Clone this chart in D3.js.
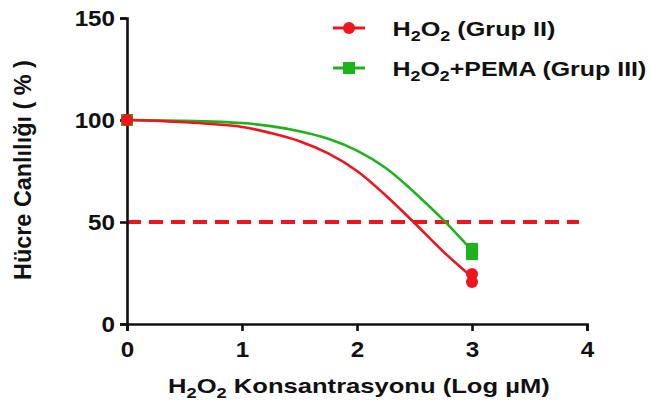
<!DOCTYPE html>
<html>
<head>
<meta charset="utf-8">
<script src="https://cdn.jsdelivr.net/npm/d3@7"></script>
<style>
  body { margin: 0; background: #fff; }
  svg text { font-family: "Liberation Sans", Arial, sans-serif; font-weight: bold; fill: #111; }
</style>
</head>
<body>
<svg width="650" height="405"></svg>
<script>
// Fitted curves (x = log uM, y = % viability)
var curveX = [0, 0.5, 1, 1.25, 1.5, 1.75, 2, 2.25, 2.5, 2.75, 3];
var redCurve = [100, 98.9, 96.6, 93.6, 89.6, 83.6, 75, 63, 49.5, 35.5, 23];
var greenCurve = [100, 99.6, 98.5, 97, 94.5, 90.8, 85, 76.5, 64.5, 51, 36];

// Measured points
var redPtsX = [0, 0, 3, 3];
var redPtsY = [100, 100, 24.5, 20.6];
var greenPtsX = [0, 0, 3, 3];
var greenPtsY = [100, 100, 36.8, 34.3];

var xTicks = [0, 1, 2, 3, 4];
var yTicks = [0, 50, 100, 150];
var halfLine = 50;

var red = "#f0141c", green = "#1db31d";

var svg = d3.select("svg");
var x = d3.scaleLinear().domain([0, 4]).range([127, 587]);
var y = d3.scaleLinear().domain([0, 150]).range([324, 18]);

// 50% reference line
svg.append("line")
  .attr("x1", x(0)).attr("x2", x(3.93))
  .attr("y1", y(halfLine)).attr("y2", y(halfLine))
  .attr("stroke", red)
  .attr("stroke-width", 4)
  .attr("stroke-dasharray", "14,8");

var line = d3.line()
  .x((d, i) => x(curveX[i]))
  .y(d => y(d))
  .curve(d3.curveCatmullRom.alpha(0.5));

svg.append("path").attr("d", line(greenCurve))
  .attr("fill", "none").attr("stroke", green).attr("stroke-width", 2.6);
svg.append("path").attr("d", line(redCurve))
  .attr("fill", "none").attr("stroke", red).attr("stroke-width", 2.6);

// axes
var xAxis = svg.append("g")
  .attr("transform", "translate(0," + y(0) + ")")
  .call(d3.axisBottom(x).tickValues(xTicks).tickSize(7).tickPadding(10).tickFormat(d3.format("d")));
var yAxis = svg.append("g")
  .attr("transform", "translate(" + x(0) + ",0)")
  .call(d3.axisLeft(y).tickValues(yTicks).tickSize(7).tickPadding(5));

[xAxis, yAxis].forEach(function (a) {
  a.select(".domain").attr("stroke", "#111").attr("stroke-width", 2.6);
  a.selectAll(".tick line").attr("stroke", "#111").attr("stroke-width", 2.6);
  a.selectAll(".tick text").style("font-size", "22px").attr("fill", "#111");
});
// tick labels look a little wider in the original
xAxis.selectAll(".tick text").attr("transform", "scale(1.1,1)");
yAxis.selectAll(".tick text").attr("transform", "translate(-12,0) scale(1.1,1) translate(12,0)");

// markers
svg.selectAll(".sq")
  .data(greenPtsY)
  .enter()
  .append("rect")
  .attr("x", (d, i) => x(greenPtsX[i]) - 6)
  .attr("y", d => y(d) - 6)
  .attr("width", 12).attr("height", 12)
  .attr("fill", green);

svg.selectAll(".dot")
  .data(redPtsY)
  .enter()
  .append("circle")
  .attr("cx", (d, i) => x(redPtsX[i]))
  .attr("cy", d => y(d))
  .attr("r", 6)
  .attr("fill", red);

// text helpers: subscripts and horizontal stretch to the measured width
function chem(t, parts) {
  parts.forEach(function (p, i) {
    var s = t.append("tspan").text(p);
    if (i % 2 === 1 && i < parts.length - 1) s.attr("dy", 5).style("font-size", "15px");
    else if (i > 0) s.attr("dy", -5);
  });
}
function fit(t, px, py, rot, target, anchor) {
  var w = t.node().getComputedTextLength();
  var s = target / w;
  var ox = anchor === "middle" ? -target / 2 : 0;
  t.attr("transform", "translate(" + px + "," + py + ") rotate(" + rot + ") translate(" + ox + ",0) scale(" + s + ",1)");
}

// axis titles
var yt = svg.append("text").style("font-size", "23px").text("Hücre Canlılığı ( % )");
fit(yt, 31, 170, -90, 220, "middle");

var xt = svg.append("text").style("font-size", "21px");
chem(xt, ["H", "2", "O", "2", " Konsantrasyonu (Log µM)"]);
fit(xt, 359, 393, 0, 382, "middle");

// legend
var legendNames = [["H", "2", "O", "2", " (Grup II)"], ["H", "2", "O", "2", "+PEMA (Grup III)"]];
var legendWidths = [163, 254];
var legendColors = [red, green];
var lg = svg.selectAll(".leg")
  .data(legendNames)
  .enter()
  .append("g")
  .attr("transform", (d, i) => "translate(0," + (28 + i * 40) + ")");

lg.append("line")
  .attr("x1", 333).attr("x2", 365)
  .attr("stroke", (d, i) => legendColors[i]).attr("stroke-width", 3);
lg.each(function (d, i) {
  var g = d3.select(this);
  if (i === 0) {
    g.append("circle").attr("cx", 349).attr("r", 6).attr("fill", red);
  } else {
    g.append("rect").attr("x", 343).attr("y", -6).attr("width", 12).attr("height", 12).attr("fill", green);
  }
  var t = g.append("text").style("font-size", "21px");
  chem(t, d);
  fit(t, 392.5, 7.5, 0, legendWidths[i], "start");
});
</script>
</body>
</html>
